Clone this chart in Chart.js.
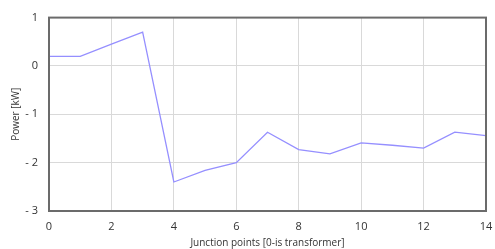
<!DOCTYPE html>
<html>
<head>
<meta charset="utf-8">
<script src="https://cdn.jsdelivr.net/npm/chart.js@4"></script>
<style>
  html, body { margin: 0; padding: 0; background: #fff; }
  #wrap { width: 495px; height: 249px; position: relative; }
</style>
</head>
<body>
<div id="wrap"><canvas id="powerChart"></canvas></div>
<script>
const junctions = [0, 1, 2, 3, 4, 5, 6, 7, 8, 9, 10, 11, 12, 13, 14];
const powerKw = [0.2, 0.2, 0.45, 0.7, -2.4, -2.16, -2.0, -1.37, -1.73, -1.82, -1.59, -1.64, -1.7, -1.37, -1.44];
const yTicks = [-3, -2, -1, 0, 1];
const xTicks = [0, 2, 4, 6, 8, 10, 12, 14];

const fontFamily = "'Open Sans', 'Noto Sans', sans-serif";
const textColor = '#333333';
const gridColor = '#d9d9d9';

// dark frame round the plot area
const frame = {
  id: 'frame',
  afterDraw(chart) {
    const { ctx, chartArea: a } = chart;
    ctx.save();
    ctx.strokeStyle = '#6b6b6b';
    ctx.lineWidth = 2;
    ctx.strokeRect(a.left, a.top, a.right - a.left, a.bottom - a.top);
    ctx.restore();
  }
};

new Chart(document.querySelector('#powerChart'), {
  type: 'line',
  data: {
    datasets: [{
      data: junctions.map((x, i) => ({ x, y: powerKw[i] })),
      borderColor: '#958fff',
      borderWidth: 1.3,
      pointRadius: 0,
      tension: 0,
      fill: false
    }]
  },
  options: {
    responsive: true,
    maintainAspectRatio: false,
    animation: false,
    layout: { padding: { top: 15, right: 9, left: 0, bottom: 0 } },
    plugins: { legend: { display: false }, tooltip: { enabled: false } },
    scales: {
      x: {
        type: 'linear',
        min: 0,
        max: 14,
        afterBuildTicks(scale) { scale.ticks = xTicks.map((v) => ({ value: v })); },
        afterFit(scale) {
          scale.height = 38;
          scale.paddingRight = 0;
          scale.paddingLeft = 0;
        },
        grid: { color: gridColor, drawTicks: false },
        border: { display: false },
        ticks: { color: textColor, padding: 9, maxRotation: 0, font: { family: fontFamily, size: 11 } },
        title: {
          display: true,
          text: 'Junction points [0-is transformer]',
          color: textColor,
          padding: { top: 2, bottom: 0 },
          font: { family: fontFamily, size: 10 }
        }
      },
      y: {
        min: -3,
        max: 1,
        afterBuildTicks(scale) { scale.ticks = yTicks.map((v) => ({ value: v })); },
        afterFit(scale) { scale.width = 49; },
        grid: { color: gridColor, drawTicks: false },
        border: { display: false },
        ticks: {
          color: textColor,
          padding: 11,
          font: { family: fontFamily, size: 11 },
          callback: (v) => (v < 0 ? '- ' + Math.abs(v) : String(v))
        },
        title: {
          display: true,
          text: 'Power [kW]',
          color: textColor,
          padding: { top: 10, bottom: 0 },
          font: { family: fontFamily, size: 10 }
        }
      }
    }
  },
  plugins: [frame]
});
</script>
</body>
</html>
